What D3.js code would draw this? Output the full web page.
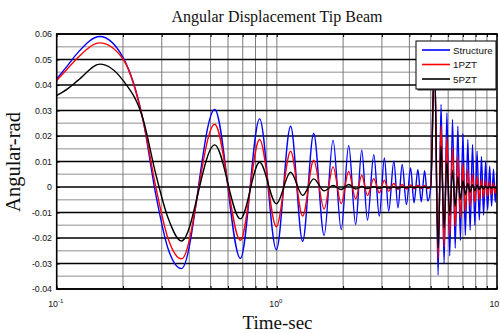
<!DOCTYPE html>
<html>
<head>
<meta charset="utf-8">
<script src="https://cdn.jsdelivr.net/npm/d3@7"></script>
<style>
  html, body { margin: 0; padding: 0; background: #fff; }
  svg { display: block; }
</style>
</head>
<body>
<svg id="chart" width="500" height="333"></svg>
<script>
const chartTitle = "Angular Displacement Tip Beam";
const xLabel = "Time-sec";
const yLabel = "Angular-rad";
const seriesNames = ["Structure", "1PZT", "5PZT"];
const seriesColors = ["#0000ff", "#ff0000", "#000000"];
const yTickValues = [0.06, 0.05, 0.04, 0.03, 0.02, 0.01, 0, -0.01, -0.02, -0.03, -0.04];
const yTickLabels = ["0.06", "0.05", "0.04", "0.03", "0.02", "0.01", "0", "-0.01", "-0.02", "-0.03", "-0.04"];
const xDecades = [0.1, 1, 10];
const xDecadeExponents = ["-1", "0", "1"];

// sample times (s) of the read points: extrema and a few slope points
const times = [
  0.1, 0.112, 0.125, 0.157, 0.2, 0.247, 0.282, 0.32, 0.369, 0.522,
  0.683, 0.835, 0.995, 1.155, 1.31, 1.47, 1.64, 1.80, 1.96, 2.12,
  2.28, 2.43, 2.58, 2.757, 2.92, 3.08, 3.22, 3.40, 3.55, 3.71,
  3.88, 4.05, 4.2, 4.37, 4.53, 4.69, 4.85, 5.0, 5.2, 5.4,
  5.57, 5.75, 5.92, 6.1, 6.28, 6.46, 6.64, 6.82, 7.0, 7.18,
  7.37, 7.55, 7.74, 7.93, 8.12, 8.31, 8.5, 8.69, 8.88, 9.07,
  9.26, 9.45, 9.64, 9.82, 10.0
];
const structure = [
  0.0424, 0.0476, 0.0528, 0.059, 0.0508, 0.026, -0.003, -0.024, -0.032, 0.0304,
  -0.028, 0.0267, -0.0246, 0.0238, -0.0213, 0.021, -0.019, 0.0184, -0.0167, 0.0163,
  -0.0147, 0.0144, -0.013, 0.0127, -0.0114, 0.0114, -0.0095, 0.0101, -0.0082, 0.0088,
  -0.0069, 0.0075, -0.0062, 0.0068, -0.0058, 0.0064, -0.0055, 0.0, 0.052, -0.0345,
  0.0324, -0.030, 0.029, -0.027, 0.0265, -0.024, 0.0238, -0.021, 0.021, -0.019,
  0.0186, -0.017, 0.0167, -0.015, 0.014, -0.013, 0.012, -0.011, 0.0101, -0.009,
  0.0082, -0.0075, 0.007, -0.006, 0.0056
];
const pzt1 = [
  0.0418, 0.0464, 0.0508, 0.0565, 0.0502, 0.026, 0.0, -0.020, -0.0282, 0.0246,
  -0.0209, 0.0186, -0.0156, 0.014, -0.0114, 0.0105, -0.0086, 0.0079, -0.0065, 0.0061,
  -0.0047, 0.0046, -0.0033, 0.0033, -0.0023, 0.0027, -0.0016, 0.0014, -0.001, 0.001,
  -0.0008, 0.0008, -0.0007, 0.0007, -0.0006, 0.0006, -0.0006, 0.0, 0.052, -0.028,
  0.024, -0.0235, 0.0195, -0.019, 0.0155, -0.0155, 0.012, -0.012, 0.009, -0.0095,
  0.007, -0.0075, 0.005, -0.006, 0.004, -0.005, 0.003, -0.004, 0.0025, -0.0035,
  0.002, -0.003, 0.0015, -0.0025, 0.0012
];
const pzt5 = [
  0.0359, 0.0385, 0.0418, 0.0482, 0.0418, 0.0265, 0.005, -0.012, -0.0212, 0.0165,
  -0.0125, 0.0097, -0.0066, 0.0058, -0.0033, 0.0032, -0.0015, 0.0006, -0.001, 0.001,
  -0.0008, 0.0002, -0.0006, 0.0001, -0.0005, 0.0001, -0.0004, 0.0, -0.0004, 0.0,
  -0.0003, 0.0, -0.0003, 0.0, -0.0003, 0.0, -0.0003, 0.0, 0.05, -0.024,
  0.016, -0.016, 0.010, -0.011, 0.0065, -0.0075, 0.004, -0.005, 0.0025, -0.003,
  0.0015, -0.002, 0.001, -0.0015, 0.0008, -0.001, 0.0005, -0.0008, 0.0004, -0.0006,
  0.0003, -0.0005, 0.0002, -0.0004, 0.0
];
const seriesValues = [structure, pzt1, pzt5];

const svg = d3.select("#chart");
const L = 56.7, R = 497, T = 34, B = 289;

const x = d3.scaleLog().domain([0.1, 10]).range([L, R]);
const y = d3.scaleLinear().domain([-0.04, 0.06]).range([B, T]);

// minor log positions
const logTicks = [];
[0.1, 1].forEach(d => { for (let k = 1; k <= 10; k++) logTicks.push(+(d * k).toPrecision(3)); });
const uniqLogTicks = Array.from(new Set(logTicks));

// horizontal minor grid (gray, half steps)
const minorY = d3.range(-0.035, 0.06, 0.01);
svg.append("g").selectAll("line").data(minorY).join("line")
  .attr("x1", L).attr("x2", R)
  .attr("y1", d => y(d)).attr("y2", d => y(d))
  .attr("stroke", "#b4b4b4").attr("stroke-width", 1.4);

// vertical grid
svg.append("g").selectAll("line").data(uniqLogTicks.filter(d => d > 0.1 && d < 10)).join("line")
  .attr("x1", d => x(d)).attr("x2", d => x(d))
  .attr("y1", T).attr("y2", B)
  .attr("stroke", "#6e6e6e").attr("stroke-width", 0.9);

// horizontal major grid (black)
svg.append("g").selectAll("line").data(yTickValues).join("line")
  .attr("x1", L).attr("x2", R)
  .attr("y1", d => y(d)).attr("y2", d => y(d))
  .attr("stroke", "#000").attr("stroke-width", 1.6);

// clip
svg.append("clipPath").attr("id", "clip").append("rect")
  .attr("x", L).attr("y", T).attr("width", R - L).attr("height", B - T);

const line = d3.line()
  .x(d => x(d[0])).y(d => y(d[1]))
  .curve(d3.curveMonotoneX);

const lines = svg.append("g").attr("clip-path", "url(#clip)");
seriesValues.forEach((vals, i) => {
  const pts = times.map((t, j) => [t, vals[j]]);
  lines.append("path").datum(pts)
    .attr("d", line)
    .attr("fill", "none")
    .attr("stroke", seriesColors[i])
    .attr("stroke-width", 1.4)
    .attr("stroke-linejoin", "round");
});

// axes (ticks inward on all sides)
const xAxisB = d3.axisBottom(x).tickValues(uniqLogTicks).tickSize(-3).tickFormat("");
const xAxisT = d3.axisTop(x).tickValues(uniqLogTicks).tickSize(-3).tickFormat("");
const yAxisL = d3.axisLeft(y).tickValues(yTickValues).tickSize(-3).tickFormat("");
const yAxisR = d3.axisRight(y).tickValues(yTickValues).tickSize(-3).tickFormat("");
[[xAxisB, `translate(0,${B})`], [xAxisT, `translate(0,${T})`], [yAxisL, `translate(${L},0)`], [yAxisR, `translate(${R},0)`]]
  .forEach(([ax, tr]) => {
    const g = svg.append("g").attr("transform", tr).call(ax);
    g.select(".domain").remove();
    g.selectAll("line").attr("stroke", "#000").attr("stroke-width", 1);
  });

// frame
svg.append("rect").attr("x", L).attr("y", T).attr("width", R - L).attr("height", B - T)
  .attr("fill", "none").attr("stroke", "#000").attr("stroke-width", 1.6);

// y tick labels
svg.append("g").selectAll("text").data(yTickValues).join("text")
  .attr("x", 52).attr("y", d => y(d) + 3.2)
  .attr("text-anchor", "end")
  .attr("font-family", "Liberation Sans, Arial, sans-serif")
  .attr("font-size", 8.8)
  .attr("fill", "#111")
  .text((d, i) => yTickLabels[i]);

// x tick labels (10^n)
const xl = svg.append("g");
xDecades.forEach((d, i) => {
  const t = xl.append("text")
    .attr("x", x(d) - 1).attr("y", 307)
    .attr("text-anchor", "middle")
    .attr("font-family", "Liberation Sans, Arial, sans-serif")
    .attr("font-size", 8.8)
    .attr("fill", "#111");
  t.append("tspan").text("10");
  t.append("tspan").attr("dy", -4.5).attr("font-size", 6).text(xDecadeExponents[i]);
});

// title and axis labels
svg.append("text").attr("x", 277).attr("y", 22).attr("text-anchor", "middle")
  .attr("font-family", "Liberation Serif, Times New Roman, serif").attr("font-size", 16)
  .attr("fill", "#111").text(chartTitle);
svg.append("text").attr("x", 277.5).attr("y", 329).attr("text-anchor", "middle")
  .attr("font-family", "Liberation Serif, Times New Roman, serif").attr("font-size", 19)
  .attr("fill", "#111").text(xLabel);
svg.append("text").attr("transform", "translate(20,162) rotate(-90)").attr("text-anchor", "middle")
  .attr("font-family", "Liberation Serif, Times New Roman, serif").attr("font-size", 20.5)
  .attr("fill", "#111").text(yLabel);

// legend
const lg = svg.append("g");
lg.append("rect").attr("x", 417.5).attr("y", 42.5).attr("width", 80).attr("height", 48).attr("fill", "#333");
lg.append("rect").attr("x", 416).attr("y", 41).attr("width", 80).attr("height", 48)
  .attr("fill", "#fff").attr("stroke", "#000").attr("stroke-width", 1);
seriesNames.forEach((n, i) => {
  const yy = 50 + i * 14.5;
  lg.append("line").attr("x1", 422).attr("x2", 450).attr("y1", yy).attr("y2", yy)
    .attr("stroke", seriesColors[i]).attr("stroke-width", 1.6);
  lg.append("text").attr("x", 453).attr("y", yy + 3.5)
    .attr("font-family", "Liberation Sans, Arial, sans-serif").attr("font-size", 9.8)
    .attr("fill", "#111").text(n);
});
</script>
</body>
</html>
